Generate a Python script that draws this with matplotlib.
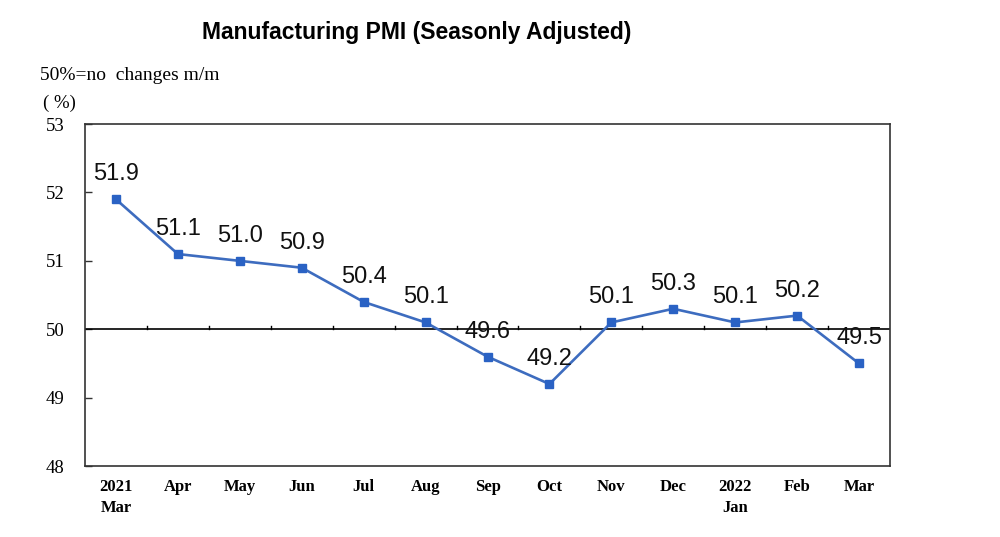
import matplotlib
matplotlib.use("Agg")
import matplotlib.pyplot as plt

months = ["2021\nMar", "Apr", "May", "Jun", "Jul", "Aug", "Sep", "Oct",
          "Nov", "Dec", "2022\nJan", "Feb", "Mar"]
pmi = [51.9, 51.1, 51.0, 50.9, 50.4, 50.1, 49.6, 49.2, 50.1, 50.3, 50.1, 50.2, 49.5]
yticks = [48, 49, 50, 51, 52, 53]

fig = plt.figure(figsize=(10, 5.37), dpi=100)
ax = fig.add_axes([0.085, 0.132, 0.805, 0.637])

x = list(range(len(months)))
ax.plot(x, pmi, color="#3D6CBF", lw=1.9, marker="s", markersize=5.5,
        markerfacecolor="#2A62C4", markeredgecolor="#2A62C4", zorder=3)

for xi, v in zip(x, pmi):
    ax.annotate(f"{v:.1f}", (xi, v), xytext=(0, 18), textcoords="offset points",
                ha="center", va="center", fontsize=17,
                family="Liberation Sans", color="#111111", zorder=4)

ax.set_xlim(-0.5, len(months) - 0.5)
ax.set_ylim(48, 53)
ax.set_yticks(yticks)
ax.set_yticklabels([str(t) for t in yticks], family="Liberation Serif", fontsize=13.5)
ax.tick_params(axis="y", direction="in", length=5, width=1, pad=15, color="#333333")

ax.set_xticks(x)
ax.set_xticklabels(months, family="Liberation Serif", fontweight="bold", fontsize=12,
                   linespacing=1.45, va="top")
ax.tick_params(axis="x", length=0, pad=9)

# 50 reference line with category-boundary ticks
ax.axhline(50, color="black", lw=1.2, zorder=2)
for b in [i + 0.5 for i in range(len(months) - 1)]:
    ax.plot([b, b], [50, 50.055], color="black", lw=1, zorder=2)

for s in ax.spines.values():
    s.set_color("#333333")
    s.set_linewidth(1.2)

fig.text(0.417, 0.94, "Manufacturing PMI (Seasonly Adjusted)", ha="center", va="center",
         fontsize=16.5, fontweight="bold", family="Liberation Sans")
fig.text(0.040, 0.860, "50%=no  changes m/m", ha="left", va="center",
         fontsize=14, family="Liberation Serif")
fig.text(0.043, 0.808, "( %)", ha="left", va="center",
         fontsize=13.5, family="Liberation Serif")

fig.savefig("out.png", dpi=100)
